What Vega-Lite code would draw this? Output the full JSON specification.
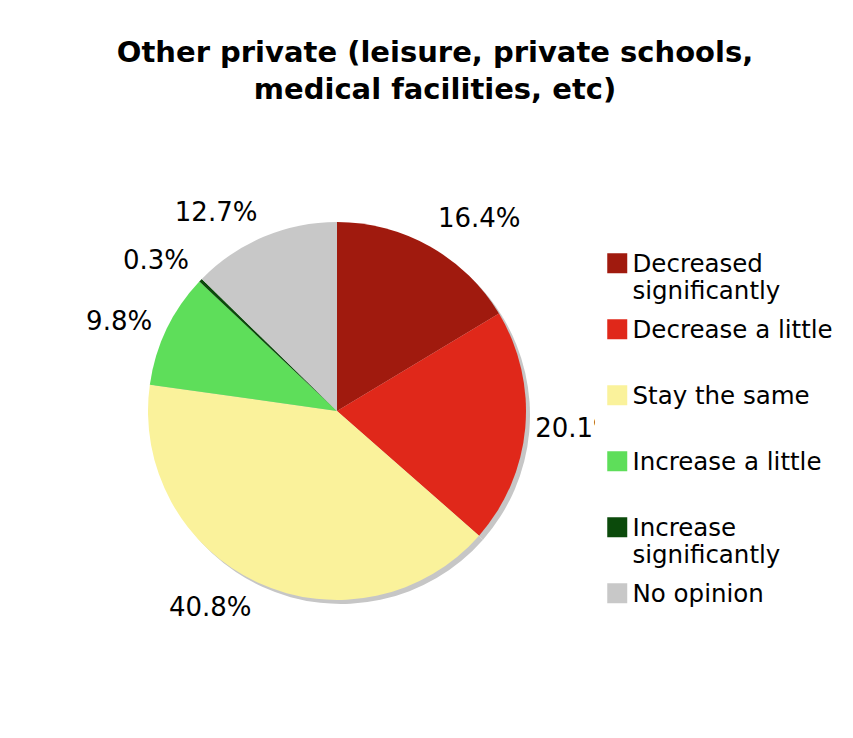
{
  "$schema": "https://vega.github.io/schema/vega-lite/v6.json",
  "width": 658,
  "height": 560,
  "autosize": {"type": "none"},
  "padding": {"left": 8, "top": 131, "right": 187, "bottom": 47},
  "background": "white",
  "config": {"font": "DejaVu Sans", "view": {"stroke": null}},
  "title": {
    "text": ["Other private (leisure, private schools,", "medical facilities, etc)"],
    "fontSize": 29,
    "fontWeight": "bold",
    "color": "black",
    "anchor": "middle",
    "frame": "group",
    "dx": 98,
    "offset": 26,
    "lineHeight": 37
  },
  "data": {
    "values": [
      {"response": "Decreased significantly", "share": 0.164, "rank": 1},
      {"response": "Decrease a little", "share": 0.201, "rank": 2},
      {"response": "Stay the same", "share": 0.408, "rank": 3},
      {"response": "Increase a little", "share": 0.098, "rank": 4},
      {"response": "Increase significantly", "share": 0.003, "rank": 5},
      {"response": "No opinion", "share": 0.127, "rank": 6}
    ]
  },
  "encoding": {
    "theta": {"field": "share", "type": "quantitative", "stack": true},
    "order": {"field": "rank", "type": "quantitative"}
  },
  "layer": [
    {
      "mark": {"type": "arc", "outerRadius": 189, "xOffset": 4, "yOffset": 4, "fill": "#c6c6c6"},
      "encoding": {"detail": {"field": "response"}}
    },
    {
      "mark": {"type": "arc", "outerRadius": 189},
      "encoding": {
        "color": {
          "field": "response",
          "type": "nominal",
          "scale": {
            "domain": ["Decreased significantly", "Decrease a little", "Stay the same", "Increase a little", "Increase significantly", "No opinion"],
            "range": ["#a01a0e", "#e0281a", "#faf29b", "#5ede5a", "#0b4a0b", "#c8c8c8"]
          },
          "legend": {
            "title": null,
            "orient": "none",
            "legendX": 587,
            "legendY": 110,
            "padding": 10,
            "fillColor": "white",
            "symbolType": "square",
            "symbolSize": 400,
            "symbolStrokeWidth": 0,
            "labelFontSize": 24.5,
            "labelColor": "black",
            "labelBaseline": "top",
            "labelLineHeight": 30,
            "labelOffset": 3,
            "labelLimit": 400,
            "rowPadding": 13,
            "labelExpr": "datum.label == 'Decreased significantly' ? ['Decreased', 'significantly'] : datum.label == 'Increase significantly' ? ['Increase', 'significantly'] : [datum.label, '']",
            "encode": {"labels": {"update": {"dy": {"value": -10}}}}
          }
        }
      }
    },
    {
      "mark": {"type": "text", "radius": 205, "align": "left", "baseline": "middle", "fontSize": 26, "fill": "black", "dy": -14},
      "encoding": {
        "detail": {"field": "response"},
        "text": {"condition": {"test": "datum.response === 'Decreased significantly'", "field": "share", "format": ".1%"}, "value": ""}
      }
    },
    {
      "mark": {"type": "text", "radius": 199, "align": "left", "baseline": "middle", "fontSize": 26, "fill": "black"},
      "encoding": {
        "detail": {"field": "response"},
        "text": {"condition": {"test": "datum.response === 'Decrease a little'", "field": "share", "format": ".1%"}, "value": ""}
      }
    },
    {
      "mark": {"type": "text", "radius": 205, "align": "right", "baseline": "middle", "fontSize": 26, "fill": "black", "dy": 11},
      "encoding": {
        "detail": {"field": "response"},
        "text": {"condition": {"test": "datum.response === 'Stay the same'", "field": "share", "format": ".1%"}, "value": ""}
      }
    },
    {
      "mark": {"type": "text", "radius": 205, "align": "right", "baseline": "middle", "fontSize": 26, "fill": "black"},
      "encoding": {
        "detail": {"field": "response"},
        "text": {"condition": {"test": "datum.response === 'Increase a little'", "field": "share", "format": ".1%"}, "value": ""}
      }
    },
    {
      "mark": {"type": "text", "radius": 205, "align": "right", "baseline": "middle", "fontSize": 26, "fill": "black", "dy": -9},
      "encoding": {
        "detail": {"field": "response"},
        "text": {"condition": {"test": "datum.response === 'No opinion'", "field": "share", "format": ".1%"}, "value": ""}
      }
    },
    {
      "mark": {"type": "text", "radius": 205, "align": "right", "baseline": "middle", "fontSize": 26, "fill": "black", "dy": -8},
      "encoding": {
        "detail": {"field": "response"},
        "text": {"condition": {"test": "datum.response === 'Increase significantly'", "field": "share", "format": ".1%"}, "value": ""}
      }
    }
  ]
}
